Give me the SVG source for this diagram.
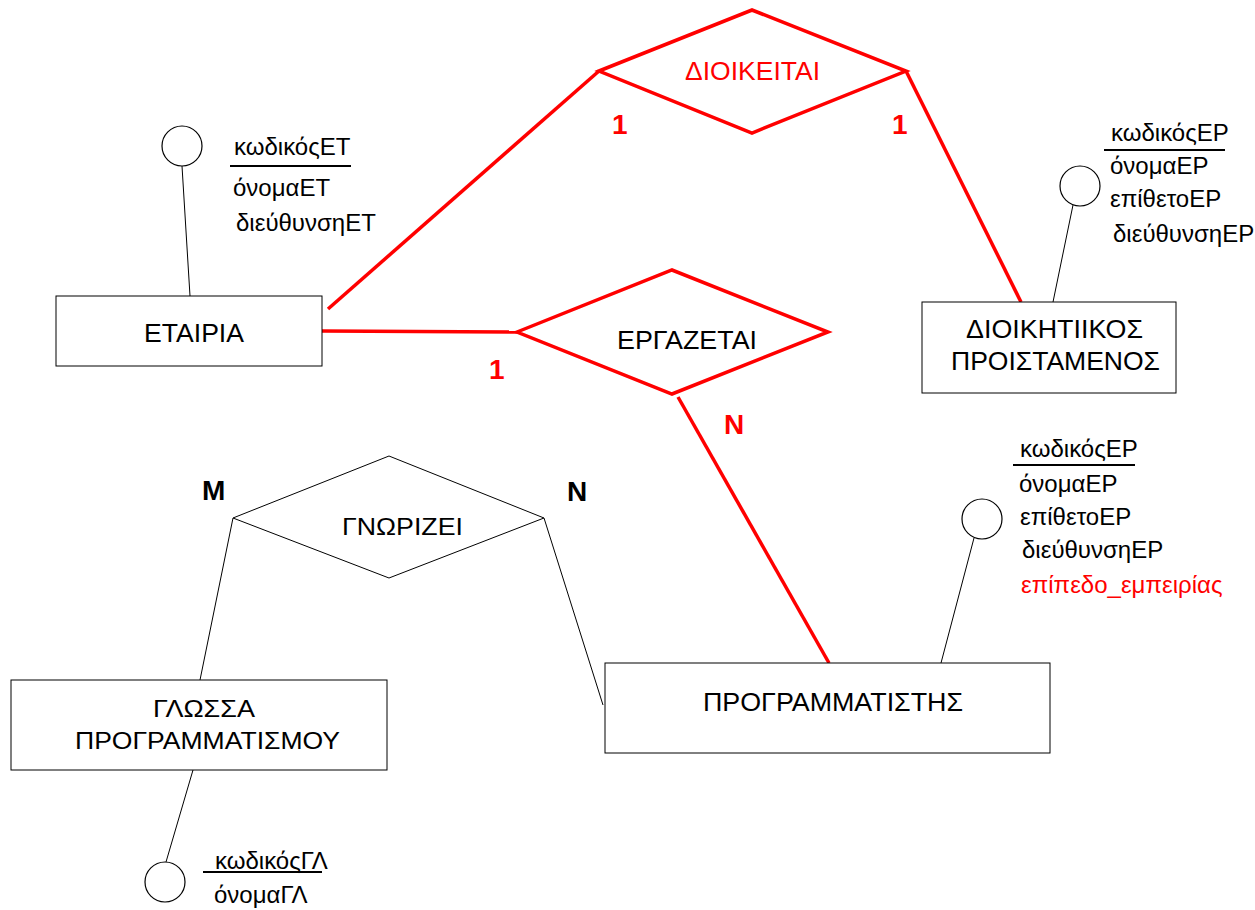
<svg xmlns="http://www.w3.org/2000/svg" width="1255" height="910" viewBox="0 0 1255 910">
  <style>
    text { font-family: "Liberation Sans", Arial, sans-serif; font-size: 24px; fill: #000; }
    .red { fill: #ff0000; }
    .card { font-weight: bold; font-size: 28px; }
    .mid { text-anchor: middle; }
    .label { font-size: 25px; }
    .entity { fill: #fff; stroke: #000; stroke-width: 1; }
    .rel { fill: #fff; stroke: #000; stroke-width: 1; }
    .relred { fill: #fff; stroke: #ff0000; stroke-width: 3.5; }
    .thin { stroke: #000; stroke-width: 1; fill: none; }
    .thick { stroke: #ff0000; stroke-width: 3.5; fill: none; }
    .attr { fill: #fff; stroke: #000; stroke-width: 1.2; }
    .key { stroke: #000; stroke-width: 2; }
  </style>

  <!-- connectors -->
  <g id="connectors">
    <line class="thick" x1="328" y1="309" x2="599" y2="71"/>
    <line class="thick" x1="906" y1="71" x2="1021" y2="302"/>
    <line class="thick" x1="322" y1="331" x2="517" y2="332"/>
    <line class="thick" x1="678" y1="397" x2="829" y2="663"/>
    <line class="thin" x1="233" y1="518" x2="200" y2="680"/>
    <line class="thin" x1="544" y1="518" x2="603" y2="705"/>
    <!-- attribute stems -->
    <line class="thin" x1="182" y1="166" x2="190" y2="296"/>
    <line class="thin" x1="1073" y1="205" x2="1053" y2="302"/>
    <line class="thin" x1="974" y1="538" x2="941" y2="663"/>
    <line class="thin" x1="193" y1="770" x2="166" y2="862"/>
  </g>

  <!-- relationships -->
  <g id="rel-dioikeitai">
    <polygon class="relred" points="599,71 752,10 906,71 752,133"/>
    <text class="red mid label" x="752.5" y="80" textLength="135" lengthAdjust="spacingAndGlyphs">ΔΙΟΙΚΕΙΤΑΙ</text>
  </g>
  <g id="rel-ergazetai">
    <polygon class="relred" points="517,332 672,270 828,332 672,394"/>
    <text class="mid label" x="687" y="349" textLength="140" lengthAdjust="spacingAndGlyphs">ΕΡΓΑΖΕΤΑΙ</text>
  </g>
  <g id="rel-gnorizei">
    <polygon class="rel" points="233,518 389,456 544,518 389,578"/>
    <text class="mid" x="402.5" y="535" textLength="121" lengthAdjust="spacingAndGlyphs">ΓΝΩΡΙΖΕΙ</text>
  </g>

  <!-- cardinalities -->
  <g id="cardinalities">
    <text class="card red" x="612" y="134">1</text>
    <text class="card red" x="892" y="134">1</text>
    <text class="card red" x="489" y="379">1</text>
    <text class="card red" x="724" y="434">N</text>
    <text class="card" x="202" y="500">M</text>
    <text class="card" x="567" y="501">N</text>
  </g>

  <!-- entities -->
  <g id="ent-etairia">
    <rect class="entity" x="56" y="296" width="266" height="70"/>
    <text class="mid label" x="194" y="342" textLength="100" lengthAdjust="spacingAndGlyphs">ΕΤΑΙΡΙΑ</text>
  </g>
  <g id="ent-dioikitikos">
    <rect class="entity" x="922" y="302" width="254" height="91"/>
    <text class="mid label" x="1054.5" y="338" textLength="177" lengthAdjust="spacingAndGlyphs">ΔΙΟΙΚΗΤΙΙΚΟΣ</text>
    <text class="mid label" x="1055.5" y="370" textLength="209" lengthAdjust="spacingAndGlyphs">ΠΡΟΙΣΤΑΜΕΝΟΣ</text>
  </g>
  <g id="ent-programmatistis">
    <rect class="entity" x="605" y="663" width="445" height="90"/>
    <text class="mid label" x="833" y="711" textLength="260" lengthAdjust="spacingAndGlyphs">ΠΡΟΓΡΑΜΜΑΤΙΣΤΗΣ</text>
  </g>
  <g id="ent-glossa">
    <rect class="entity" x="11" y="680" width="376" height="90"/>
    <text class="mid" x="204" y="717" textLength="102" lengthAdjust="spacingAndGlyphs">ΓΛΩΣΣΑ</text>
    <text class="mid" x="207.5" y="749" textLength="265" lengthAdjust="spacingAndGlyphs">ΠΡΟΓΡΑΜΜΑΤΙΣΜΟΥ</text>
  </g>

  <!-- attribute lists -->
  <g id="attr-etairia">
    <circle class="attr" cx="182" cy="146" r="20"/>
    <text x="234" y="155">κωδικόςΕΤ</text>
    <line class="key" x1="230" y1="166" x2="351" y2="166"/>
    <text x="233" y="196">όνομαΕΤ</text>
    <text x="236" y="231">διεύθυνσηΕΤ</text>
  </g>
  <g id="attr-dioikitikos">
    <circle class="attr" cx="1080" cy="186" r="20"/>
    <text x="1111" y="141">κωδικόςΕΡ</text>
    <line class="key" x1="1104" y1="150" x2="1225" y2="150"/>
    <text x="1110" y="174">όνομαΕΡ</text>
    <text x="1110" y="207">επίθετοΕΡ</text>
    <text x="1113" y="242">διεύθυνσηΕΡ</text>
  </g>
  <g id="attr-programmatistis">
    <circle class="attr" cx="982" cy="519" r="20"/>
    <text x="1020" y="457">κωδικόςΕΡ</text>
    <line class="key" x1="1013" y1="465" x2="1135" y2="465"/>
    <text x="1019" y="492">όνομαΕΡ</text>
    <text x="1020" y="525">επίθετοΕΡ</text>
    <text x="1022" y="558">διεύθυνσηΕΡ</text>
    <text class="red" x="1021" y="593">επίπεδο_εμπειρίας</text>
  </g>
  <g id="attr-glossa">
    <circle class="attr" cx="165" cy="882" r="20"/>
    <text x="215" y="869">κωδικόςΓΛ</text>
    <line class="key" x1="203" y1="872" x2="322" y2="872"/>
    <text x="214" y="903">όνομαΓΛ</text>
  </g>
</svg>
